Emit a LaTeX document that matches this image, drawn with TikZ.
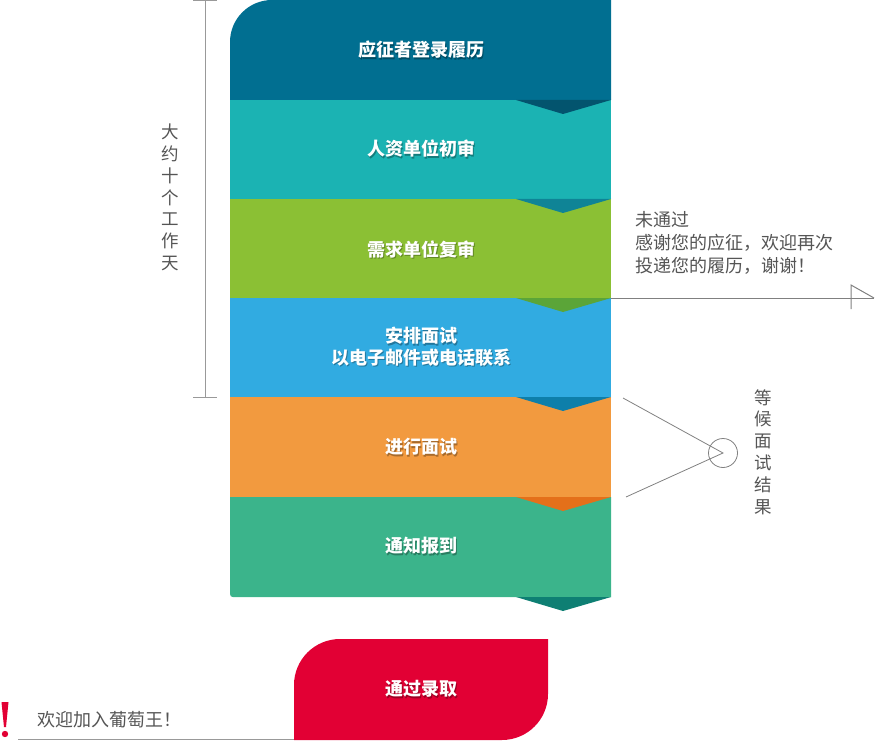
\documentclass[tikz,border=0pt]{standalone}
\usepackage{fontspec}
\setmainfont{Noto Sans CJK SC}
\definecolor{cA}{HTML}{016F91}\definecolor{tA}{HTML}{03546E}
\definecolor{cB}{HTML}{1BB3B3}\definecolor{tB}{HTML}{0F8496}
\definecolor{cC}{HTML}{8BC034}\definecolor{tC}{HTML}{5BA538}
\definecolor{cD}{HTML}{31ABE1}\definecolor{tD}{HTML}{0E7FAA}
\definecolor{cE}{HTML}{F29A3F}\definecolor{tE}{HTML}{E4701A}
\definecolor{cF}{HTML}{3BB48B}\definecolor{tF}{HTML}{0E7F73}
\definecolor{redx}{HTML}{E20034}
\definecolor{txtgray}{HTML}{555555}
\definecolor{linegray}{HTML}{999999}
\tikzset{
  bandtxt/.style={text=white, font=\fontsize{18}{21.5}\selectfont\bfseries, align=center, inner sep=0pt},
  shadowtxt/.style={text=black, opacity=0.3, font=\fontsize{18}{21.5}\selectfont\bfseries, align=center, inner sep=0pt},
  graytxt/.style={text=txtgray, font=\fontsize{18}{23}\selectfont, inner sep=0pt},
  vtxt/.style={text=txtgray, font=\fontsize{17.5}{21.8}\selectfont, align=center, inner sep=0pt},
  thinline/.style={draw=linegray, line width=1pt},
}
\begin{document}
\begin{tikzpicture}[x=1pt,y=-1pt]
\useasboundingbox (0,0) rectangle (875,743);
% bands
\fill[cA] (230,100) -- (230,42) .. controls (230,18.8) and (248.8,0) .. (272,0) -- (611,0) -- (611,100) -- cycle;
\fill[cB] (230,100) rectangle (611,199);
\fill[cC] (230,199) rectangle (611,298);
\fill[cD] (230,298) rectangle (611,397);
\fill[cE] (230,397) rectangle (611,497);
\fill[cF] (230,497) -- (230,594) .. controls (230,596) and (231,597) .. (233,597) -- (611,597) -- (611,497) -- cycle;
% triangles
\fill[tA] (516,100) -- (611,100) -- (563,114) -- cycle;
\fill[tB] (516,199) -- (611,199) -- (563,213) -- cycle;
\fill[tC] (516,298) -- (611,298) -- (563,312) -- cycle;
\fill[tD] (516,397) -- (611,397) -- (563,411) -- cycle;
\fill[tE] (516,497) -- (611,497) -- (563,511) -- cycle;
\fill[tF] (516,597) -- (611,597) -- (563,611) -- cycle;
% band texts
\foreach \n/\y/\t in {a/50/应征者登录履历, b/149/人资单位初审, c/249/需求单位复审, d/346.5/{安排面试\\以电子邮件或电话联系}, e/447/进行面试, f/546/通知报到}{
  \node[shadowtxt] (s\n) at (422,\y+1.5) {\t};
  \node[bandtxt] (\n) at (421,\y) {\t};
}
% red box
\fill[redx] (294,740) -- (294,685) .. controls (294,659.6) and (314.6,639) .. (340,639) -- (548,639) -- (548,694) .. controls (548,719.4) and (527.4,740) .. (502,740) -- cycle;
\node[shadowtxt] (sg) at (422,690.5) {通过录取};
\node[bandtxt] (g) at (421,689) {通过录取};
% left bracket
\coordinate (bt) at (205,1);
\coordinate (bb) at (205,397);
\draw[thinline] (bt) -- (bb);
\draw[thinline] (193,1) -- (217,1);
\draw[thinline] (193,397) -- (217,397);
\node[vtxt] (days) at (170,197.5) {大\\约\\十\\个\\工\\作\\天};
% right: not passed
\node[graytxt, align=left, anchor=west] (np) at (635,243) {未通过\\感谢您的应征，欢迎再次\\投递您的履历，谢谢！};
\coordinate (r0) at (611,298);
\coordinate (r1) at (874,298);
\draw[thinline, draw=gray] (r0) -- (r1);
\draw[thinline, draw=gray] (851,309) -- (851,285) -- (r1);
% wait for result
\node[draw=gray, line width=0.8pt, circle, minimum size=29pt, inner sep=0pt] (circ) at (723,453) {};
\coordinate (w1) at (623,398);
\coordinate (w2) at (626,497);
\draw[draw=gray, line width=0.8pt] (w1) -- (circ.center) -- (w2);
\node[vtxt] (wait) at (763,452) {等\\候\\面\\试\\结\\果};
% bottom welcome
\coordinate (l0) at (18,739.5);
\draw[thinline] (l0) -- (294,739.5);
\fill[redx] (1.5,702) -- (8.5,702) -- (6,727) -- (4,727) -- cycle;
\fill[redx] (5,734) circle (3.2);
\node[graytxt, anchor=west] (wel) at (37,720) {欢迎加入葡萄王！};
\end{tikzpicture}
\end{document}
